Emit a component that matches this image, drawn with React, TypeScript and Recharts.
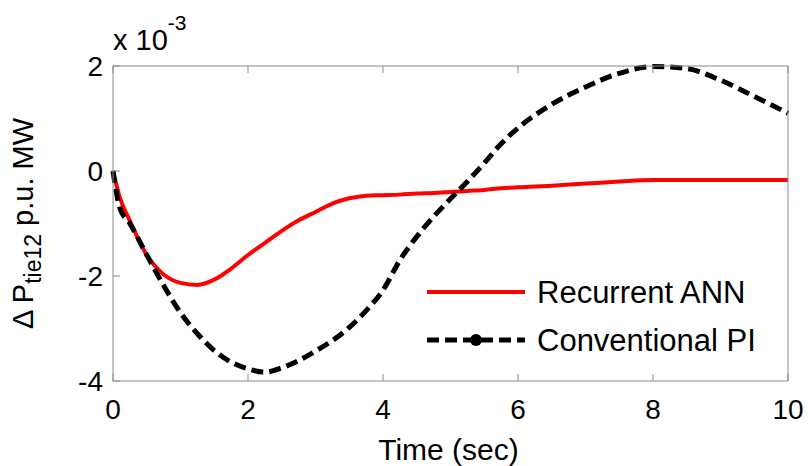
import React from "react";
import { LineChart, Line, XAxis, YAxis } from "recharts";

/* ── data (values in units of 1e-3 p.u. MW) ─────────────────────────────── */

const TIME = [
  0, 0.1, 0.25, 0.5, 0.75, 1, 1.25, 1.5, 1.75, 2, 2.25, 2.5, 2.75, 3, 3.25,
  3.5, 3.75, 4, 4.25, 4.5, 4.75, 5, 5.25, 5.5, 5.75, 6, 6.5, 7, 7.5, 8, 8.5,
  9, 9.5, 10,
];

const RECURRENT_ANN = [
  0, -0.5, -0.95, -1.6, -1.97, -2.13, -2.17, -2.07, -1.86, -1.6, -1.37, -1.14,
  -0.94, -0.78, -0.62, -0.52, -0.47, -0.46, -0.45, -0.43, -0.42, -0.4, -0.38,
  -0.36, -0.33, -0.31, -0.28, -0.24, -0.2, -0.17, -0.17, -0.17, -0.17, -0.17,
];

const CONVENTIONAL_PI = [
  0, -0.7, -1.0, -1.6, -2.18, -2.7, -3.1, -3.42, -3.64, -3.77, -3.83, -3.75,
  -3.61, -3.43, -3.23, -2.98, -2.66, -2.27, -1.7, -1.25, -0.87, -0.53, -0.2,
  0.15, 0.52, 0.82, 1.27, 1.6, 1.86, 1.99, 1.95, 1.73, 1.42, 1.1,
];

const X_TICKS = [0, 2, 4, 6, 8, 10];
const Y_TICKS = [-4, -2, 0, 2];

const data = TIME.map((t, i) => ({
  t,
  ann: RECURRENT_ANN[i],
  pi: CONVENTIONAL_PI[i],
}));

/* ── styling ─────────────────────────────────────────────────────────────── */

const FONT = "'Liberation Sans', Arial, sans-serif";
const AXIS = "#8a8a8a";
const TICK_FS = 28;
const TICK_LEN = 7;

/* ── ticks (drawn inward, MATLAB style) ──────────────────────────────────── */

function BottomTick(props: any) {
  const { x, y, payload } = props;
  return (
    <g>
      <line x1={x} x2={x} y1={y} y2={y - TICK_LEN} stroke={AXIS} />
      <text x={x} y={y + 38} textAnchor="middle" fontSize={TICK_FS} fontFamily={FONT} fill="#000">
        {payload.value}
      </text>
    </g>
  );
}

function TopTick(props: any) {
  const { x, y } = props;
  return <line x1={x} x2={x} y1={y} y2={y + TICK_LEN} stroke={AXIS} />;
}

function LeftTick(props: any) {
  const { x, y, payload } = props;
  return (
    <g>
      <line x1={x} x2={x + TICK_LEN} y1={y} y2={y} stroke={AXIS} />
      <text x={x - 10} y={y + 10} textAnchor="end" fontSize={TICK_FS} fontFamily={FONT} fill="#000">
        {payload.value}
      </text>
    </g>
  );
}

function RightTick(props: any) {
  const { x, y } = props;
  return <line x1={x} x2={x - TICK_LEN} y1={y} y2={y} stroke={AXIS} />;
}

/* ── labels ──────────────────────────────────────────────────────────────── */

function TimeLabel(props: any) {
  const vb = props.viewBox;
  return (
    <text x={vb.x + vb.width / 2 - 2} y={vb.y + 79} textAnchor="middle" fontSize={30} fontFamily={FONT} fill="#000">
      Time (sec)
    </text>
  );
}

function ScaleLabel(props: any) {
  const vb = props.viewBox;
  return (
    <text x={vb.x} y={vb.y - 15} fontSize={29} fontFamily={FONT} fill="#000">
      x 10
      <tspan dy={-20} fontSize={21}>-3</tspan>
    </text>
  );
}

function PowerLabel(props: any) {
  const vb = props.viewBox;
  const cx = 33;
  const cy = vb.y + vb.height / 2;
  return (
    <text
      x={cx}
      y={cy}
      transform={`rotate(-90, ${cx}, ${cy})`}
      textAnchor="middle"
      fontSize={29}
      fontFamily={FONT}
      fill="#000"
    >
      {"\u0394 P"}
      <tspan dy={8} fontSize={23}>tie12</tspan>
      <tspan dy={-8}> p.u. MW</tspan>
    </text>
  );
}

/* ── legend ──────────────────────────────────────────────────────────────── */

function ChartLegend() {
  return (
    <svg width={360} height={100} style={{ position: "absolute", left: 420, top: 266 }}>
      <line x1={7} x2={105} y1={26} y2={26} stroke="#ff0000" strokeWidth={4} />
      <text x={117} y={37} fontSize={31} fontFamily={FONT} fill="#000">
        Recurrent ANN
      </text>
      <line x1={7} x2={105} y1={74} y2={74} stroke="#000" strokeWidth={5} strokeDasharray="12 6" />
      <circle cx={56} cy={74} r={6} fill="#000" />
      <text x={117} y={85} fontSize={31} fontFamily={FONT} fill="#000">
        Conventional PI
      </text>
    </svg>
  );
}

/* ── chart ───────────────────────────────────────────────────────────────── */

export default function App() {
  return (
    <div style={{ position: "absolute", left: 0, top: 0, width: 808, height: 466, background: "#fff" }}>
      <LineChart
        width={808}
        height={466}
        data={data}
        margin={{ top: 65, right: 19, bottom: 84, left: 112 }}
      >
        <XAxis
          dataKey="t"
          type="number"
          domain={[0, 10]}
          ticks={X_TICKS}
          interval={0}
          height={1}
          tickSize={0}
          tickMargin={0}
          tickLine={false}
          axisLine={{ stroke: AXIS }}
          tick={<BottomTick />}
          label={(p: any) => <TimeLabel {...p} />}
        />
        <XAxis
          xAxisId="top"
          orientation="top"
          dataKey="t"
          type="number"
          domain={[0, 10]}
          ticks={X_TICKS}
          interval={0}
          height={1}
          tickSize={0}
          tickMargin={0}
          tickLine={false}
          axisLine={{ stroke: AXIS }}
          tick={<TopTick />}
          label={(p: any) => <ScaleLabel {...p} />}
        />
        <YAxis
          type="number"
          domain={[-4, 2]}
          ticks={Y_TICKS}
          interval={0}
          width={1}
          tickSize={0}
          tickMargin={0}
          tickLine={false}
          axisLine={{ stroke: AXIS }}
          tick={<LeftTick />}
          label={(p: any) => <PowerLabel {...p} />}
        />
        <YAxis
          yAxisId="right"
          orientation="right"
          type="number"
          domain={[-4, 2]}
          ticks={Y_TICKS}
          interval={0}
          width={1}
          tickSize={0}
          tickMargin={0}
          tickLine={false}
          axisLine={{ stroke: AXIS }}
          tick={<RightTick />}
        />
        <Line
          dataKey="ann"
          type="monotone"
          stroke="#ff0000"
          strokeWidth={4}
          dot={false}
          isAnimationActive={false}
        />
        <Line
          dataKey="pi"
          type="monotone"
          stroke="#000"
          strokeWidth={5}
          strokeDasharray="12 6"
          dot={false}
          isAnimationActive={false}
        />
      </LineChart>
      <ChartLegend />
    </div>
  );
}
